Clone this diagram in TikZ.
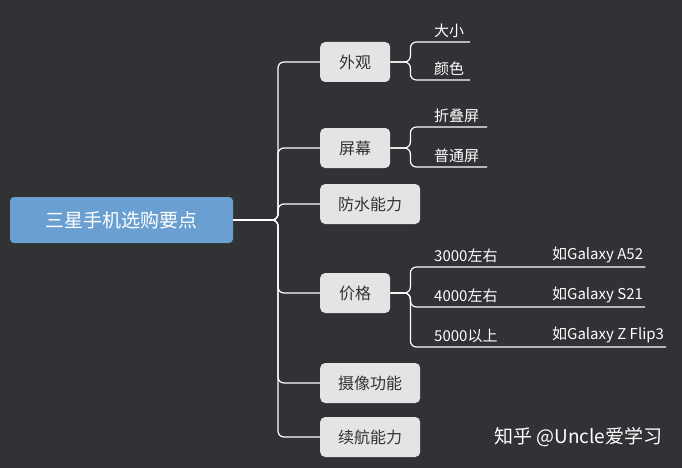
\documentclass[tikz,border=0pt]{standalone}
\usepackage{fontspec}
\setmainfont{Noto Sans CJK SC}
\usetikzlibrary{positioning}
\definecolor{bgdark}{HTML}{313235}
\definecolor{rootblue}{HTML}{6A9FD2}
\definecolor{boxgray}{HTML}{E4E4E4}
\tikzset{x=1pt, y=-1pt,
	root/.style={fill=rootblue, rounded corners=4pt, minimum width=223pt, minimum height=46pt, text=white, font=\fontsize{19}{19}\selectfont},
	topic/.style={fill=boxgray, rounded corners=5pt, minimum height=40pt, inner xsep=10pt, text=black!80, font=\fontsize{16}{16}\selectfont, anchor=west},
	leaf/.style={text=white, anchor=south west, inner xsep=2pt, inner ysep=4pt, font=\fontsize{15}{15}\selectfont},
	edge/.style={white, line width=1.2pt, rounded corners=6pt}}

\begin{document}
\begin{tikzpicture}
	\fill[bgdark] (0,0) rectangle (682,468);
	\node[root] (Root) at (121.5,220) {三星手机选购要点};
	\coordinate (Trunk) at (278,220);
	% topics
	\node[topic, minimum width=70pt] (Look) at (320,62) {外观};
	\node[topic, minimum width=70pt] (Screen) at (320,148) {屏幕};
	\node[topic, minimum width=100pt] (Water) at (320,204) {防水能力};
	\node[topic, minimum width=70pt] (Price) at (320,293) {价格};
	\node[topic, minimum width=100pt] (Camera) at (320,383) {摄像功能};
	\node[topic, minimum width=100pt] (Battery) at (320,437) {续航能力};
	\foreach \t in {Look, Screen, Water, Price, Camera, Battery}
		\draw[edge] (Root.east) -- (Trunk) |- (\t.west);
	% leaves
	\node[leaf] (Size) at (432,42) {大小};
	\node[leaf] (Color) at (432,80) {颜色};
	\node[leaf] (Fold) at (432,127) {折叠屏};
	\node[leaf] (Normal) at (432,167) {普通屏};
	\node[leaf] (P3) at (432,267) {3000左右};
	\node[leaf] (P4) at (432,307) {4000左右};
	\node[leaf] (P5) at (432,347) {5000以上};
	\node[leaf] (A52) at (550,267) {如Galaxy A52};
	\node[leaf] (S21) at (550,307) {如Galaxy S21};
	\node[leaf] (Flip) at (550,347) {如Galaxy Z Flip3};
	\draw[edge] (Look.east) -- ++(20,0) |- (Size.south west) -- (470,42);
	\draw[edge] (Look.east) -- ++(20,0) |- (Color.south west) -- (470,80);
	\draw[edge] (Screen.east) -- ++(20,0) |- (Fold.south west) -- (487,127);
	\draw[edge] (Screen.east) -- ++(20,0) |- (Normal.south west) -- (487,167);
	\draw[edge] (Price.east) -- ++(20,0) |- (P3.south west) -- (A52.south east);
	\draw[edge] (Price.east) -- ++(20,0) |- (P4.south west) -- (S21.south east);
	\draw[edge] (Price.east) -- ++(20,0) |- (P5.south west) -- (Flip.south east);
	% watermark
	\node[text=white, font=\fontsize{19}{19}\selectfont, anchor=east] (Mark) at (666,437) {知乎 @Uncle爱学习};
\end{tikzpicture}
\end{document}
